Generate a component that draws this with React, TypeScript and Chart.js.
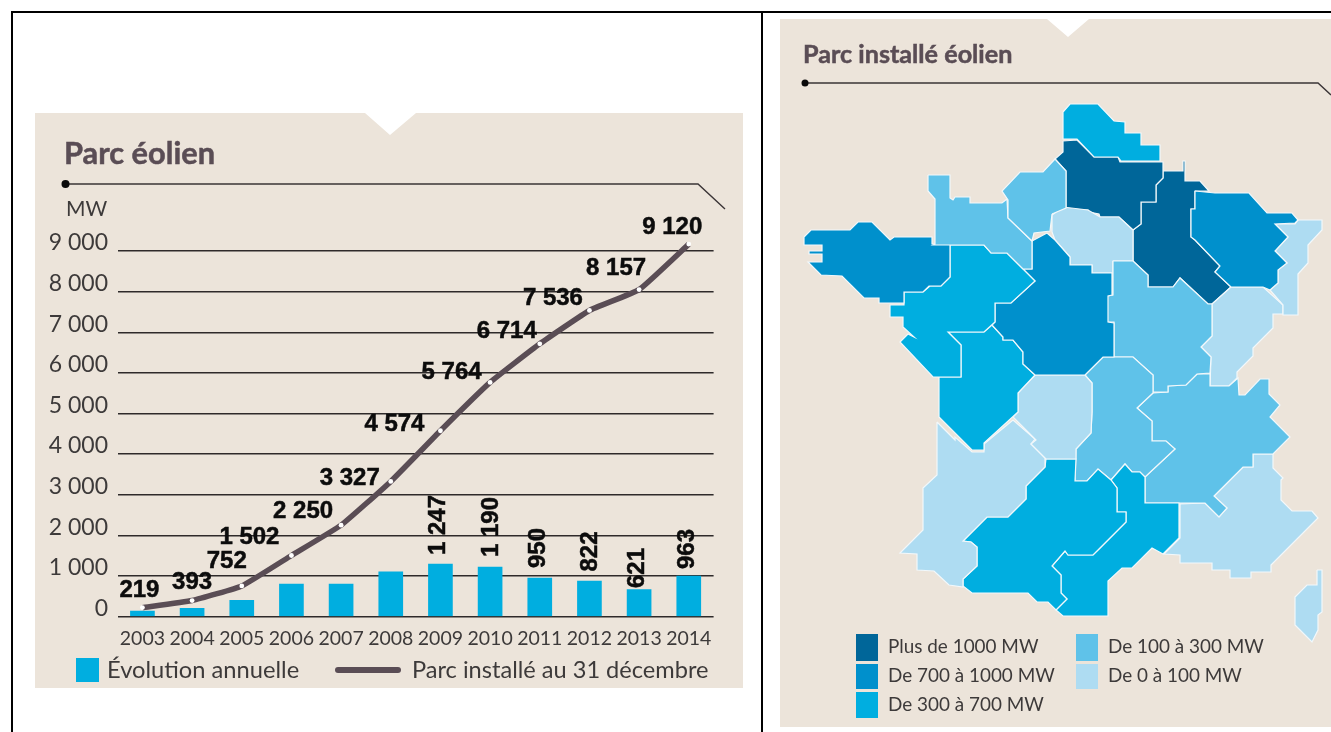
import React, { useEffect, useRef } from "react";
import { Chart, registerables } from "chart.js";

Chart.register(...registerables);

// ---- Left chart data ----
const years = ["2003","2004","2005","2006","2007","2008","2009","2010","2011","2012","2013","2014"];
const annualBars = [135, 200, 400, 800, 800, 1103, 1293, 1219, 948, 874, 665, 997];
const parkLine = [219, 393, 752, 1502, 2250, 3327, 4574, 5764, 6714, 7536, 8050, 9170];
const parkLabels = ["219","393","752","1 502","2 250","3 327","4 574","5 764","6 714","7 536","8 157","9 120"];
const barLabels = ["","","","","","","1 247","1 190","950","822","621","963"];
const parkLabelOffsets = [[-3,-17],[0,-18],[-15,-25],[-42,-18.5],[-38,-13.4],[-41,-3.4],[-46,-6.7],[-38.5,-10],[-33,-12],[-36.5,-12.4],[-23,-21.6],[-16.5,-17]];
const barLabelOffsets = [[0,0],[0,0],[0,0],[0,0],[0,0],[0,0],[-2.5,-39],[1,-40],[-1,-30],[1.3,-29.5],[-1.7,-21.5],[-1.4,-27]];

// ---- Map data: region outlines ----
const C1000 = "#006699", C700 = "#0090cc", C300 = "#00aee0", C100 = "#5fc2e9", C0 = "#aedcf2";
const nord = [[1063,112],[1070,104],[1098,104],[1114,121],[1125,122],[1125,133],[1141,133],[1141,145],[1160,145],[1160,161],[1121,161],[1118,157],[1094,157],[1077,139],[1063,139]];
const picardie = [[1063,141],[1077,140],[1094,157],[1118,157],[1120,162],[1163,162],[1163,178],[1156,185],[1156,202],[1141,202],[1141,224],[1133,230],[1119,217],[1100,217],[1099,214],[1089,212],[1088,210],[1066,210],[1066,171],[1055,159],[1063,152]];
const hauteNormandie = [[1052,214],[1050,231],[1034,233],[1032,241],[1008,218],[1008,200],[1002,191],[1020,172],[1043,172],[1055,159],[1066,171],[1066,208]];
const basseNormandie = [[928,175],[950,175],[950,198],[953,200],[955,197],[970,197],[970,203],[1002,203],[1007,199],[1008,218],[1032,241],[1032,269],[1023,269],[1007,253],[991,253],[984,245],[933,245],[935,244],[935,199],[928,191]];
const bretagne = [[804,237],[811,230],[850,230],[858,222],[872,222],[890,240],[894,237],[932,237],[932,244],[950,244],[950,277],[941,286],[929,286],[923,292],[904,292],[904,303],[879,303],[879,298],[864,298],[842,276],[821,275],[808,262],[822,262],[822,254],[809,254],[809,251],[822,251],[822,245],[804,245]];
const paysLoire = [[950,245],[984,245],[991,253],[1007,253],[1035,281],[1011,303],[995,303],[995,322],[984,332],[948,332],[961,345],[961,377],[933,377],[900,342],[908,334],[914,337],[903,327],[903,317],[890,317],[890,305],[904,305],[904,292],[923,292],[930,286],[941,286],[950,277]];
const centre = [[1047,233],[1055,240],[1070,257],[1070,265],[1092,265],[1092,273],[1112,273],[1112,295],[1108,296],[1108,322],[1114,323],[1114,357],[1103,357],[1085,375],[1035,375],[1023,364],[1023,352],[1013,340],[1003,340],[1003,337],[992,325],[995,322],[995,303],[1011,303],[1035,281],[1023,269],[1032,269],[1032,241]];
const poitou = [[948,332],[984,332],[992,325],[1003,337],[1003,340],[1013,340],[1023,352],[1023,364],[1035,375],[1018,393],[1018,412],[984,443],[984,450],[972,450],[939,417],[939,377],[961,377],[961,345]];
const limousin = [[1035,375],[1085,375],[1092,383],[1092,412],[1091,433],[1076,449],[1076,459],[1046,459],[1031,444],[1036,440],[1013,417],[1018,412],[1018,393]];
const aquitaine = [[937,422],[955,440],[955,437],[972,452],[984,452],[984,444],[1013,420],[1035,439],[1031,444],[1045,458],[1045,467],[1026,486],[1026,499],[1008,517],[987,517],[963,541],[971,542],[977,547],[977,566],[963,579],[963,587],[949,585],[934,571],[917,570],[917,554],[900,553],[923,530],[923,488],[937,475]];
const midiPyrenees = [[1046,459],[1076,459],[1075,481],[1087,481],[1098,469],[1111,480],[1117,488],[1117,512],[1126,512],[1126,522],[1100,548],[1093,555],[1068,555],[1065,551],[1052,566],[1061,575],[1061,593],[1067,599],[1056,610],[1048,602],[1037,602],[1028,593],[1007,593],[972,593],[963,586],[963,579],[977,566],[977,547],[971,542],[963,541],[987,517],[1008,517],[1026,499],[1026,486],[1045,467]];
const languedoc = [[1100,548],[1126,522],[1126,512],[1117,512],[1117,488],[1111,480],[1125,464],[1132,472],[1140,472],[1145,477],[1145,503],[1179,503],[1179,538],[1163,554],[1152,548],[1132,568],[1122,568],[1108,581],[1108,616],[1063,616],[1056,610],[1067,599],[1061,593],[1061,575],[1052,566],[1065,551],[1068,555],[1093,555]];
const auvergne = [[1103,357],[1133,357],[1153,375],[1153,393],[1137,408],[1152,421],[1152,441],[1166,441],[1175,449],[1145,477],[1140,472],[1132,472],[1125,464],[1111,480],[1098,469],[1087,481],[1075,481],[1076,449],[1091,433],[1092,412],[1092,383],[1085,375]];
const bourgogne = [[1113,261],[1133,261],[1148,275],[1148,287],[1173,287],[1180,278],[1208,304],[1212,304],[1212,336],[1201,347],[1211,357],[1210,373],[1197,374],[1186,385],[1168,386],[1168,392],[1153,392],[1153,375],[1133,357],[1114,357],[1114,322],[1107,322],[1107,296],[1113,295]];
const rhoneAlpes = [[1153,393],[1168,392],[1168,386],[1186,385],[1197,374],[1210,374],[1210,386],[1229,386],[1238,378],[1239,395],[1245,395],[1260,379],[1269,379],[1269,394],[1280,405],[1270,417],[1290,437],[1273,454],[1253,454],[1253,467],[1243,467],[1214,496],[1227,508],[1219,517],[1205,503],[1145,503],[1145,477],[1175,449],[1166,441],[1152,441],[1152,421],[1137,408]];
const paca = [[1180,504],[1205,503],[1219,517],[1227,508],[1214,496],[1243,467],[1253,467],[1253,454],[1273,454],[1273,468],[1283,478],[1281,480],[1281,500],[1292,511],[1312,511],[1318,518],[1271,565],[1271,572],[1251,572],[1251,578],[1230,578],[1230,570],[1212,570],[1212,563],[1180,563],[1180,555],[1164,554],[1180,538]];
const corse = [[1317,570],[1322,570],[1322,612],[1318,615],[1318,630],[1312,642],[1295,625],[1295,597],[1307,585],[1317,585]];
const ileDeFrance = [[1052,215],[1063,207],[1088,210],[1100,217],[1119,217],[1133,230],[1133,261],[1113,261],[1113,273],[1092,273],[1092,265],[1070,265],[1070,257],[1055,240],[1052,232]];
const champagne = [[1163,171],[1183,171],[1183,161],[1185,161],[1185,181],[1200,181],[1209,191],[1195,191],[1195,209],[1191,209],[1191,237],[1195,240],[1220,266],[1215,272],[1231,287],[1212,304],[1208,304],[1180,278],[1173,287],[1148,287],[1148,275],[1133,261],[1133,230],[1141,224],[1141,202],[1156,202],[1156,185],[1163,178]];
const lorraine = [[1195,191],[1215,193],[1249,193],[1267,213],[1292,213],[1298,220],[1295,223],[1275,224],[1288,237],[1275,251],[1287,263],[1278,270],[1278,283],[1270,290],[1263,287],[1231,287],[1215,272],[1220,266],[1195,240],[1191,237],[1191,209],[1195,209]];
const alsace = [[1275,224],[1295,224],[1298,220],[1322,220],[1322,230],[1308,245],[1308,263],[1298,274],[1298,315],[1283,315],[1283,305],[1270,290],[1278,283],[1278,270],[1287,263],[1275,251],[1288,237]];
const franche = [[1231,287],[1263,287],[1283,305],[1283,314],[1273,314],[1273,328],[1253,348],[1253,356],[1237,372],[1237,378],[1229,386],[1210,386],[1211,357],[1201,347],[1212,336],[1212,304]];

const regions: [string, number[][], string][] = [
  ["Nord-Pas-de-Calais", nord, C300], ["Haute-Normandie", hauteNormandie, C100], ["Basse-Normandie", basseNormandie, C100],
  ["Bretagne", bretagne, C700], ["Pays de la Loire", paysLoire, C300], ["Centre", centre, C700], ["Poitou-Charentes", poitou, C300],
  ["Limousin", limousin, C0], ["Aquitaine", aquitaine, C0], ["Midi-Pyrénées", midiPyrenees, C300], ["Languedoc-Roussillon", languedoc, C300],
  ["Auvergne", auvergne, C100], ["Bourgogne", bourgogne, C100], ["Rhône-Alpes", rhoneAlpes, C100], ["PACA", paca, C0], ["Corse", corse, C0],
  ["Île-de-France", ileDeFrance, C0], ["Lorraine", lorraine, C700], ["Alsace", alsace, C0], ["Franche-Comté", franche, C0],
  ["Picardie", picardie, C1000], ["Champagne-Ardenne", champagne, C1000],
];

const BG = "#ece4da", INK = "#5a4d55", BAR = "#00aee0", TXT = "#3d3a3a";

const abs = (l: number, t: number, w: number, h: number, extra: any = {}) => ({ position: "absolute", left: l, top: t, width: w, height: h, ...extra });
const label = (x: number, cy: number, size: number, weight: number = 400, color: string = TXT, extra: any = {}) => ({
  position: "absolute", left: x, top: cy - size, lineHeight: size * 2 + "px", fontFamily: "Lato", fontSize: size, fontWeight: weight, color, whiteSpace: "nowrap", ...extra,
});

const dataLabels = {
  id: "dataLabels",
  afterDatasetsDraw(chart: any) {
    const { ctx } = chart;
    const barMeta = chart.getDatasetMeta(0).data;
    const lineMeta = chart.getDatasetMeta(1).data;
    ctx.save();
    ctx.fillStyle = "#0c0c0c";
    ctx.strokeStyle = "#0c0c0c";
    ctx.lineWidth = 0.5;
    ctx.font = 'bold 24px "Liberation Sans"';
    ctx.textAlign = "center";
    ctx.textBaseline = "middle";
    parkLabels.forEach((t, i) => {
      const x = lineMeta[i].x + parkLabelOffsets[i][0], y = lineMeta[i].y + parkLabelOffsets[i][1];
      ctx.fillText(t, x, y);
      ctx.strokeText(t, x, y);
    });
    barLabels.forEach((t, i) => {
      if (!t) return;
      ctx.save();
      ctx.translate(barMeta[i].x + barLabelOffsets[i][0], barMeta[i].y + barLabelOffsets[i][1]);
      ctx.rotate(-Math.PI / 2);
      ctx.fillText(t, 0, 0);
      ctx.strokeText(t, 0, 0);
      ctx.restore();
    });
    ctx.restore();
  },
};

export default function App() {
  const leftRef = useRef<HTMLCanvasElement>(null);
  const rightRef = useRef<HTMLCanvasElement>(null);

  useEffect(() => {
    const left = new Chart(leftRef.current!, {
      type: "bar",
      data: {
        labels: years,
        datasets: [
          { type: "bar", label: "Évolution annuelle", data: annualBars, backgroundColor: BAR, barThickness: 24, order: 2 },
          { type: "line", label: "Parc installé au 31 décembre", data: parkLine, borderColor: INK, borderWidth: 5.5, tension: 0.12,
            pointRadius: 2.4, pointBackgroundColor: "#ffffff", pointBorderWidth: 0, order: 1 },
        ],
      } as any,
      options: {
        responsive: false, animation: false,
        layout: { padding: { top: 97.4, right: 29.4, left: 0, bottom: 0 } },
        plugins: { legend: { display: false }, tooltip: { enabled: false } },
        scales: {
          x: {
            grid: { display: false }, border: { display: false },
            afterFit: (s: any) => { s.height = 71.5; },
            ticks: { color: TXT, padding: 3, autoSkip: false, maxRotation: 0, font: { family: "Lato", size: 19.5 } },
          },
          y: {
            min: 0, max: 10000,
            grid: { color: "#2e2a2a", lineWidth: 1.4, drawTicks: false }, border: { display: false },
            afterFit: (s: any) => { s.width = 82.6; },
            afterBuildTicks: (s: any) => { s.ticks = s.ticks.filter((t: any) => t.value <= 9000); },
            ticks: {
              stepSize: 1000, padding: 9.6, color: TXT,
              font: { family: "Lato", size: 23, lineHeight: 16 / 23 },
              callback: (v: any) => [String(v).replace(/\B(?=(\d{3})+$)/g, " "), ""],
            },
          },
        },
      } as any,
      plugins: [dataLabels],
    });

    const right = new Chart(rightRef.current!, {
      type: "scatter",
      data: {
        datasets: regions.map(([name, pts, color]) => ({
          label: name,
          data: [...pts, pts[0]].map(([x, y]) => ({ x, y })),
          showLine: true, fill: "shape", backgroundColor: color, borderColor: "#f2f8fb", borderWidth: 1.2,
          pointRadius: 0, tension: 0, borderJoinStyle: "miter",
        })),
      } as any,
      options: {
        responsive: false, animation: false,
        layout: { padding: 0 },
        plugins: { legend: { display: false }, tooltip: { enabled: false } },
        scales: {
          x: { type: "linear", display: false, min: 780, max: 1331 },
          y: { type: "linear", display: false, min: 19, max: 727, reverse: true },
        },
      } as any,
    });
    return () => { left.destroy(); right.destroy(); };
  }, []);

  const mapLegend: [number, number, number, string, string][] = [
    [856, 634, 27, C1000, "Plus de 1000 MW"],
    [856, 664, 25, C700, "De 700 à 1000 MW"],
    [856, 692, 26, C300, "De 300 à 700 MW"],
    [1076, 634, 27, C100, "De 100 à 300 MW"],
    [1076, 664, 25, C0, "De 0 à 100 MW"],
  ];

  const titleStroke = { WebkitTextStroke: "0.5px " + INK };

  return (
    <div style={{ position: "fixed", left: 0, top: 0, width: 1331, height: 732, background: "#fff", overflow: "hidden" } as any}>
      <div style={abs(11, 11, 1320, 2, { background: "#000" }) as any} />
      <div style={abs(11, 11, 2, 721, { background: "#000" }) as any} />
      <div style={abs(761, 11, 2, 721, { background: "#000" }) as any} />

      {/* Left panel */}
      <div style={abs(35, 113, 708, 575, { background: BG, clipPath: "polygon(0 0, 330px 0, 355px 22px, 381px 0, 100% 0, 100% 100%, 0 100%)" }) as any}>
        <canvas ref={leftRef} width={708} height={575} style={{ display: "block" }} />
      </div>
      <div style={label(64, 153, 30.8, 700, INK, titleStroke) as any}>Parc éolien</div>
      <div style={label(66, 208, 21) as any}>MW</div>
      <div style={abs(76, 658, 23, 24, { background: BAR }) as any} />
      <div style={label(107, 670, 23.7) as any}>Évolution annuelle</div>
      <div style={label(412, 670, 23.6) as any}>Parc installé au 31 décembre</div>

      {/* Right panel */}
      <div style={abs(780, 19, 551, 708, { background: BG, clipPath: "polygon(0 0, 267px 0, 288px 18px, 309px 0, 100% 0, 100% 100%, 0 100%)" }) as any}>
        <canvas ref={rightRef} width={551} height={708} style={{ display: "block" }} />
      </div>
      <div style={label(803, 53, 25.2, 700, INK, titleStroke) as any}>Parc installé éolien</div>
      {mapLegend.map(([x, y, h, c, t]) => (
        <React.Fragment key={t}>
          <div style={abs(x, y, 22, h, { background: c }) as any} />
          <div style={label(x + 32, y + (h === 25 ? 11 : 12), 18.9) as any}>{t}</div>
        </React.Fragment>
      ))}

      {/* Decorative rules */}
      <svg width={1331} height={732} style={{ position: "absolute", left: 0, top: 0, pointerEvents: "none" } as any}>
        <polyline points="65,184 698,184 725,209" fill="none" stroke="#3a3436" strokeWidth={1.4} />
        <circle cx={65.5} cy={184} r={4} fill="#0a0a0a" />
        <polyline points="805,83 1318,83 1331,95" fill="none" stroke="#3a3436" strokeWidth={1.4} />
        <circle cx={805} cy={83} r={3.5} fill="#0a0a0a" />
        <line x1={338} y1={670} x2={398} y2={670} stroke={INK} strokeWidth={6} strokeLinecap="round" />
      </svg>
    </div>
  );
}
